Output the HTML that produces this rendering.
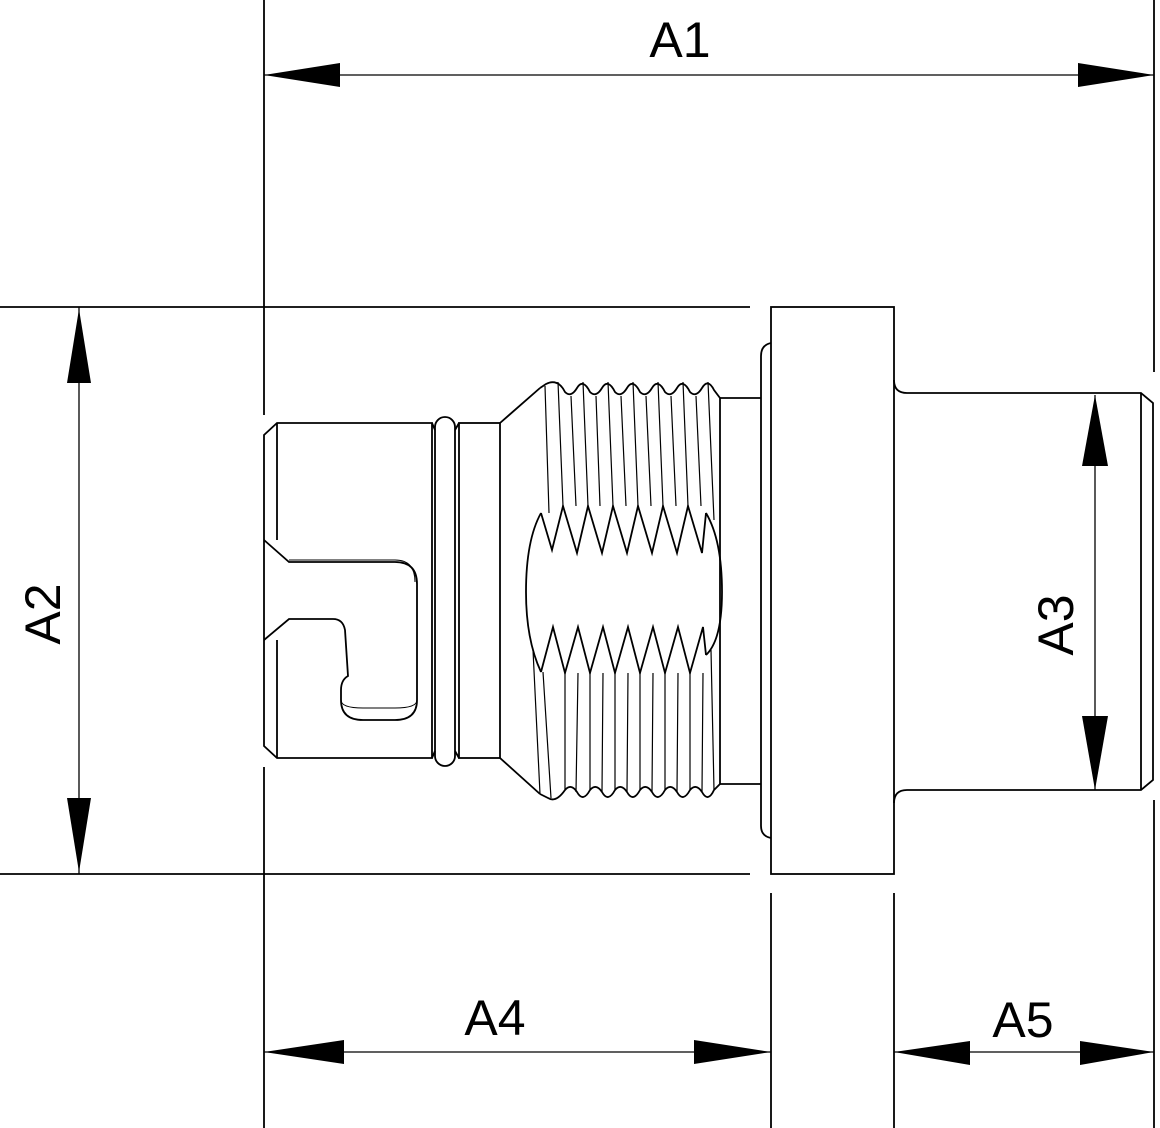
<!DOCTYPE html>
<html><head><meta charset="utf-8"><style>html,body{margin:0;padding:0;background:#fff}svg{display:block}</style></head>
<body>
<svg width="1160" height="1128" viewBox="0 0 1160 1128" xmlns="http://www.w3.org/2000/svg" font-family="Liberation Sans, sans-serif">
<g stroke="#000" stroke-width="1.8" fill="none">
<!-- extension lines -->
<line x1="264" y1="0" x2="264" y2="415"/>
<line x1="264" y1="767" x2="264" y2="1128"/>
<line x1="1154" y1="0" x2="1154" y2="372"/>
<line x1="1154" y1="800" x2="1154" y2="1128"/>
<line x1="0" y1="307" x2="750" y2="307"/>
<line x1="0" y1="874" x2="750" y2="874"/>
<line x1="771" y1="893" x2="771" y2="1128"/>
<line x1="894" y1="893" x2="894" y2="1128"/>
<!-- dim lines -->
<line x1="264" y1="75" x2="1154" y2="75" stroke-width="1.3"/>
<line x1="79" y1="307" x2="79" y2="874" stroke-width="1.3"/>
<line x1="1095" y1="395" x2="1095" y2="790" stroke-width="1.3"/>
<line x1="264" y1="1052" x2="771" y2="1052" stroke-width="1.3"/>
<line x1="894" y1="1052" x2="1154" y2="1052" stroke-width="1.3"/>

<!-- flange & shaft -->
<rect x="771" y="307" width="123" height="567"/>
<path d="M894 380 Q894 393 907 393 L1141 393 L1153 403 L1153 780 L1141 790 L907 790 Q894 790 894 803"/>
<line x1="1141" y1="393" x2="1141" y2="790"/>
<path d="M771 343 Q761 345 761 356 L761 826 Q761 836 771 838"/>
<line x1="720" y1="398" x2="761" y2="398"/>
<line x1="720" y1="784" x2="761" y2="784"/>
<line x1="720" y1="398" x2="720" y2="784"/>

<!-- left body -->
<path d="M277 423 L432 423 L432 758 L277 758 L264 746 L264 435 Z"/>
<line x1="277" y1="423" x2="277" y2="540"/>
<line x1="277" y1="640" x2="277" y2="758"/>
<rect x="435" y="417" width="20" height="349" rx="10"/>
<path d="M432 423 L435 430 M432 758 L435 751 M455 430 L459 423 M455 751 L459 758"/>
<rect x="459" y="423" width="41" height="335"/>
<path d="M500 423 L540 388 M500 758 L540 794"/>
<!-- slot -->
<path d="M264 540 L289 562 L395 562 Q417 562 417 584 L417 700 Q417 720 395 720 L363 720 Q341 720 341 700 L341 690 Q341 680 348 676 L345 630 Q343 619 333 619 L289 619 L264 640"/>
<path d="M289 560 L395 560 Q415 560 415 582" stroke-width="1"/>
<path d="M341 700 Q341 708 363 708 L395 708 Q417 708 417 700" stroke-width="1"/>

<!-- threads outer zigzags -->
<path d="M540 388 L546 384 Q558 378 565 392 Q571 398 577 388 Q583 378 590 392 Q596 398 602 388 Q608 378 615 392 Q621 398 627 388 Q633 378 640 392 Q646 398 652 388 Q658 378 665 392 Q671 398 677 388 Q683 378 690 392 Q696 398 702 388 Q708 378 714 390 L720 398"/>
<path d="M540 794 L548 798 Q556 803 565 790 Q571 783 577 792 Q583 803 590 790 Q596 783 602 792 Q608 803 615 790 Q621 783 627 792 Q633 803 640 790 Q646 783 652 792 Q658 803 665 790 Q671 783 677 792 Q683 803 690 790 Q696 783 702 792 Q708 803 714 790 L720 784"/>
<!-- window ellipse -->
<path d="M541 513 Q526 540 526 592 Q526 640 541 672"/>
<path d="M706 513 Q722 540 722 592 Q722 640 706 655"/>
<!-- upper teeth into window -->
<path d="M541 513 L552 550 L563 506 L577 553 L588 506 L602 553 L613 506 L627 553 L638 506 L652 553 L663 506 L677 553 L688 506 L702 553 L706 513"/>
<!-- lower teeth -->
<path d="M541 672 L553 627 L565 673 L578 627 L590 673 L603 627 L615 673 L628 627 L640 673 L653 627 L665 673 L678 627 L690 673 L703 627 L706 655"/>
<!-- crest lines upper -->
<path d="M545 386 L549 513 M558 382 L563 506 M571 396 L576 506 M583 382 L588 506 M596 396 L600 506 M608 382 L613 506 M621 396 L626 506 M633 382 L638 506 M646 396 L651 506 M658 382 L663 506 M671 396 L676 506 M683 382 L688 506 M696 396 L701 506 M708 382 L714 520" stroke-width="1.2"/>
<!-- crest lines lower -->
<path d="M533 650 L540 794 M543 672 L551 798 M565 673 L565 790 M578 673 L576 792 M590 673 L590 790 M603 673 L602 792 M615 673 L615 790 M628 673 L627 792 M640 673 L640 790 M653 673 L652 792 M665 673 L665 790 M678 673 L677 792 M690 673 L690 790 M703 673 L702 792 M711 650 L714 790" stroke-width="1.2"/>
</g>
<!-- arrowheads -->
<g fill="#000">
<polygon points="264,75 340,63 340,87"/>
<polygon points="1154,75 1078,63 1078,87"/>
<polygon points="79,309 67,383 91,383"/>
<polygon points="79,872 67,798 91,798"/>
<polygon points="1095,395 1082,466 1108,466"/>
<polygon points="1095,790 1082,716 1108,716"/>
<polygon points="264,1052 344,1040 344,1064"/>
<polygon points="771,1052 694,1040 694,1064"/>
<polygon points="894,1052 970,1041 970,1065"/>
<polygon points="1154,1052 1080,1041 1080,1065"/>
</g>
<g font-size="50" fill="#000">
<text x="680" y="57" text-anchor="middle">A1</text>
<text x="495" y="1035" text-anchor="middle">A4</text>
<text x="1023" y="1037" text-anchor="middle">A5</text>
<text transform="translate(60,614) rotate(-90)" text-anchor="middle">A2</text>
<text transform="translate(1073,625) rotate(-90)" text-anchor="middle">A3</text>
</g>
</svg>
</body></html>
